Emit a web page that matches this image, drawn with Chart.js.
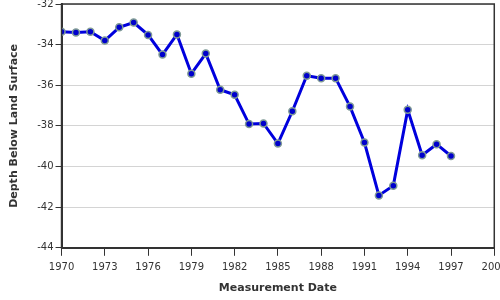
<!DOCTYPE html>
<html>
<head>
    <title>Measurement Depth</title>
    <script src="https://cdn.jsdelivr.net/npm/chart.js"></script>
    <style>
body {
    margin: 0;
    background: #fff;
}

.chart-clip {
    width: 500px;
    height: 300px;
    overflow: hidden;
}

.chart {
    width: 513px;
    height: 304px;
    margin-top: -4px;
}
    </style>
</head>
<body>
  <div class="chart-clip">
      <div class="chart">
          <canvas id="myChart"></canvas>
      </div>
  </div>
    <script>
        // Measurement years and depth readings
        const years = [1970, 1971, 1972, 1973, 1974, 1975, 1976, 1977, 1978, 1979,
                       1980, 1981, 1982, 1983, 1984, 1985, 1986, 1987, 1988, 1989,
                       1990, 1991, 1992, 1993, 1994, 1995, 1996, 1997];
        const depths = [-33.37, -33.40, -33.37, -33.80, -33.15, -32.91, -33.52, -34.49, -33.50, -35.43,
                        -34.44, -36.22, -36.47, -37.91, -37.88, -38.87, -37.28, -35.53, -35.65, -35.65,
                        -37.05, -38.82, -41.42, -40.94, -37.21, -39.44, -38.90, -39.48];

        // Axis ranges / ticks
        const xMin = 1970, xMax = 2000, xStep = 3;
        const yMin = -44, yMax = -32, yStep = 2;

        const font = 'DejaVu Sans';
        const textColor = '#333';

        // Draws the dark frame round the plot area
        const frame = {
          id: 'frame',
          afterDraw(chart) {
            const a = chart.chartArea;
            const c = chart.ctx;
            c.save();
            c.strokeStyle = '#333';
            c.lineWidth = 1.5;
            c.strokeRect(a.left, a.top, a.right - a.left, a.bottom - a.top);
            c.restore();
          }
        };

        const ctx = document.getElementById('myChart').getContext('2d');
        const depthChart = new Chart(ctx, {
          type: 'line',
          data: {
            datasets: [
              {
                label: 'Depth',
                data: years.map((y, i) => ({ x: y, y: depths[i] })),
                borderColor: '#0000dd',
                borderWidth: 3,
                backgroundColor: '#0000cc',
                pointBackgroundColor: '#0000cc',
                pointBorderColor: '#7f9a96',
                pointBorderWidth: 1.5,
                pointRadius: 3.5,
                tension: 0,
              },
            ],
          },
          options: {
            responsive: true,
            maintainAspectRatio: false,
            animation: false,
            layout: { padding: { top: 0, right: 0, left: 8, bottom: 5 } },
            plugins: {
              legend: { display: false },
              tooltip: { enabled: false },
            },
            scales: {
              x: {
                type: 'linear',
                min: xMin,
                max: xMax,
                border: { color: '#333', width: 2 },
                grid: { drawOnChartArea: false, tickLength: 8, color: '#333' },
                ticks: {
                  stepSize: xStep,
                  color: textColor,
                  font: { family: font, size: 10 },
                  maxRotation: 0,
                  padding: 6,
                  callback: v => String(v),
                },
                title: {
                  display: true,
                  text: 'Measurement Date',
                  color: textColor,
                  font: { family: font, size: 11, weight: 'bold' },
                  padding: { top: 2, bottom: 0 },
                },
              },
              y: {
                min: yMin,
                max: yMax,
                border: { color: '#333', width: 2 },
                grid: { color: '#d4d4d4', tickLength: 6, tickColor: '#333' },
                ticks: {
                  stepSize: yStep,
                  color: textColor,
                  font: { family: font, size: 10 },
                  padding: 2,
                },
                title: {
                  display: true,
                  text: 'Depth Below Land Surface',
                  color: textColor,
                  font: { family: font, size: 11, weight: 'bold' },
                  padding: { top: 0, bottom: 14 },
                },
              },
            },
          },
          plugins: [frame],
        });
    </script>
</body>
</html>
